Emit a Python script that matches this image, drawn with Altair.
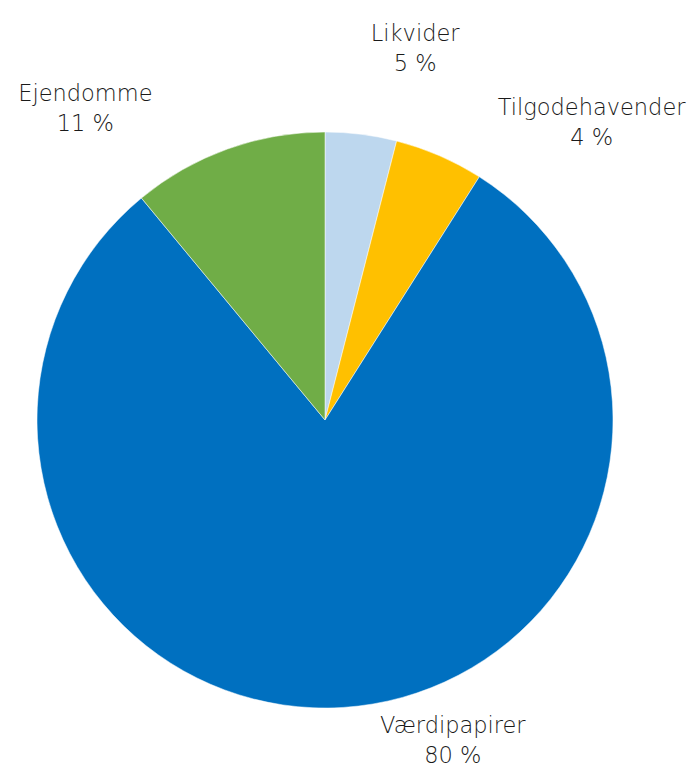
import altair as alt
import pandas as pd

names = ["Tilgodehavender", "Likvider", "Værdipapirer", "Ejendomme"]
values = [4, 5, 80, 11]
pct_labels = ["4 %", "5 %", "80 %", "11 %"]
colors = ["#BDD7EE", "#FFC000", "#0070C0", "#70AD47"]
order = [0, 1, 2, 3]

df = pd.DataFrame({"name": names, "value": values, "pct": pct_labels, "ord": order})

CX, CY, R = 317, 412, 288

base = alt.Chart(df).encode(
    theta=alt.Theta("value:Q", stack=True),
    order=alt.Order("ord:Q"),
)

arcs = base.mark_arc(stroke="white", strokeWidth=0.5).encode(
    x=alt.value(CX), y=alt.value(CY),
    radius=alt.value(R),
    color=alt.Color("name:N", scale=alt.Scale(domain=names, range=colors), legend=None),
)

LH = 30
nudges = {
    "Tilgodehavender": (229, 1),
    "Likvider": (-29, -96),
    "Værdipapirer": (109, 22),
    "Ejendomme": (-138, -29),
}

layers = [arcs]
for n in names:
    dx, dy = nudges[n]
    t = base.transform_calculate(
        lbl="[datum.name, datum.pct]"
    ).mark_text(
        font="DejaVu Sans", fontWeight=200, fontSize=22.5, color="#1a1a1a",
        align="center", baseline="middle", lineHeight=LH, dx=dx, dy=dy - LH / 2,
    ).encode(
        x=alt.value(CX), y=alt.value(CY),
        radius=alt.value(300),
        text=alt.condition(alt.datum.name == n, "lbl:N", alt.value("")),
    )
    layers.append(t)

chart = alt.layer(*layers).properties(
    width=681, height=757, padding=0, autosize="none"
).configure_view(stroke=None)

chart.save("out.html", embed_options={"renderer": "svg", "actions": False})
